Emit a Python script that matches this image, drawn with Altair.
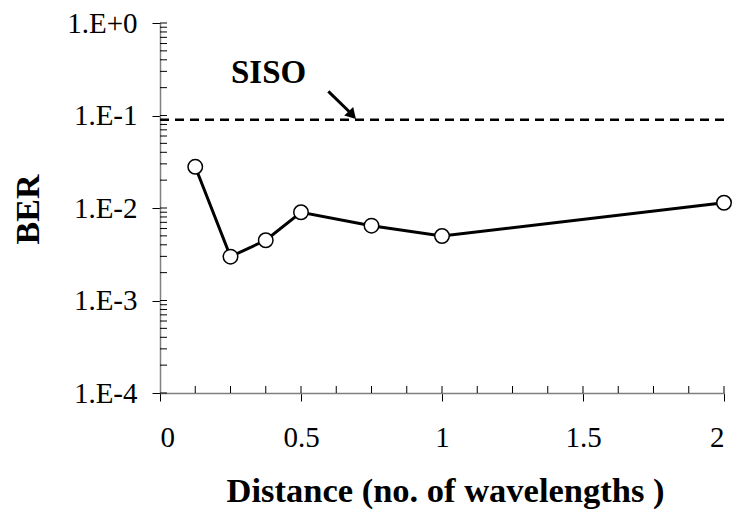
import altair as alt
import pandas as pd

# data
distance = [0.125, 0.25, 0.375, 0.5, 0.75, 1.0, 2.0]
ber = [0.0279, 0.00298, 0.00448, 0.0090, 0.00644, 0.00498, 0.0114]
siso_ber = 0.09
y_decades = [1e-4, 1e-3, 1e-2, 1e-1, 1.0]
x_major = [0, 0.5, 1, 1.5, 2]
x_minor = [i * 0.125 for i in range(1, 17)]
y_minor = [m * 10.0 ** k for k in range(-4, 0) for m in range(1, 10)] + [1.0]

# annotation (SISO label and arrow) in data coordinates
label_x, label_y = 0.385, 0.29
arrow_x = [0.597, 0.675]
arrow_y = [0.182, 0.107]
head_x, head_y = 0.682, 0.101

FONT = "Liberation Serif"
W, H = 564, 370

xs = alt.Scale(domain=[0, 2], nice=False, zero=False)
ys = alt.Scale(type="log", domain=[1e-4, 1], nice=False)

x_axis = alt.Axis(values=x_major, format="~g", title="Distance (no. of wavelengths )",
                  grid=False, tickSize=8, labelPadding=36, labelBaseline="middle",
                  labelFont=FONT, labelFontSize=29, labelColor="black",
                  titleFont=FONT, titleFontSize=34.5, titleFontWeight="bold", titleColor="black",
                  titleX=W / 2 + 3, titleY=98, titleBaseline="middle", titleAlign="center",
                  domainColor="#808080", tickColor="black", domainWidth=1.5)
y_axis = alt.Axis(values=y_decades,
                  labelExpr="'1.E' + (datum.value >= 1 ? '+0' : round(log(datum.value)/LN10))",
                  title="BER", grid=False, tickSize=8, labelPadding=15, labelBaseline="middle",
                  labelFont=FONT, labelFontSize=29, labelColor="black",
                  titleFont=FONT, titleFontSize=34, titleFontWeight="bold", titleColor="black",
                  titleAngle=270, titleX=-132, titleY=186, titleBaseline="middle", titleAlign="center",
                  domainColor="#808080", tickColor="black", domainWidth=1.5)

X = alt.X("x:Q", scale=xs, axis=x_axis)
Y = alt.Y("y:Q", scale=ys, axis=y_axis)

df = pd.DataFrame({"x": distance, "y": ber})

line = alt.Chart(df).mark_line(color="black", strokeWidth=3).encode(x=X, y=Y)
pts = alt.Chart(df).mark_point(shape="circle", size=210, filled=True, fill="white",
                               stroke="black", strokeWidth=1.5, opacity=1).encode(x=X, y=Y)

siso_df = pd.DataFrame({"x": [0], "x2": [2], "y": [siso_ber]})
siso = alt.Chart(siso_df).mark_rule(color="black", strokeWidth=2.5, strokeDash=[9, 6]).encode(
    x=X, x2="x2:Q", y=Y)

label_df = pd.DataFrame({"x": [label_x], "y": [label_y], "t": ["SISO"]})
label = alt.Chart(label_df).mark_text(font=FONT, fontSize=33, fontWeight="bold", color="black",
                                      align="center", baseline="middle").encode(
    x=X, y=Y, text="t:N")

arrow_df = pd.DataFrame({"x": arrow_x, "y": arrow_y, "o": [0, 1]})
arrow = alt.Chart(arrow_df).mark_line(color="black", strokeWidth=3).encode(x=X, y=Y, order="o:Q")
head_df = pd.DataFrame({"x": [head_x], "y": [head_y]})
head = alt.Chart(head_df).mark_point(shape="triangle-down", size=150, filled=True, color="black",
                                     opacity=1, angle=317).encode(x=X, y=Y)

ymin_df = pd.DataFrame({"y": y_minor})
yminor = alt.Chart(ymin_df).mark_rule(color="black", strokeWidth=1).encode(
    y=Y, x=alt.value(0), x2=alt.value(7))
xmin_df = pd.DataFrame({"x": x_minor})
xminor = alt.Chart(xmin_df).mark_tick(color="black", thickness=1, size=7, orient="vertical",
                                      opacity=1).encode(x=X, y=alt.value(H - 3.5))

chart = alt.layer(yminor, xminor, siso, arrow, head, label, line, pts).properties(
    width=W, height=H,
    autosize=alt.AutoSizeParams(type="none"),
    padding={"left": 160, "top": 23, "right": 9, "bottom": 120},
    background="white",
).configure_view(stroke=None)

chart.save("out.html", embed_options={"renderer": "svg", "actions": False})
